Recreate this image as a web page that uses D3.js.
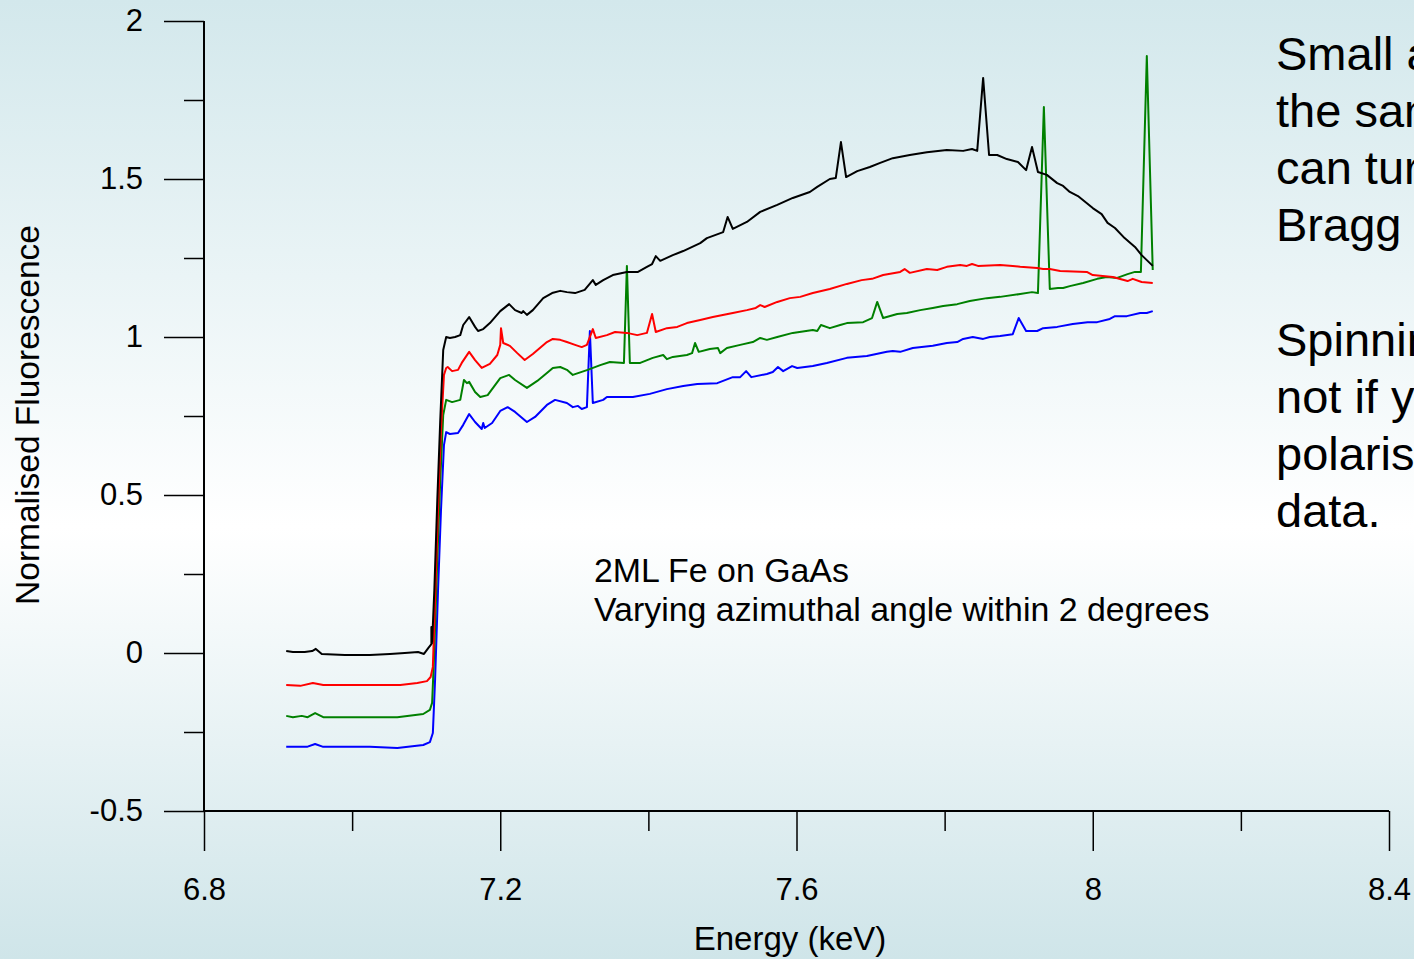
<!DOCTYPE html>
<html>
<head>
<meta charset="utf-8">
<script src="https://cdn.jsdelivr.net/npm/d3@7"></script>
<style>
  html, body { margin: 0; padding: 0; }
  body { width: 1414px; height: 959px; overflow: hidden; }
  svg text { font-family: "Liberation Sans", Arial, sans-serif; fill: #000; }
</style>
</head>
<body>
<svg id="chart" width="1414" height="959"></svg>
<script>
// ---- Data (Energy keV, normalised fluorescence) ----
const blackE = [6.911,6.920,6.936,6.946,6.951,6.959,6.990,7.024,7.051,7.071,7.089,7.097,7.103,7.107,7.107,7.108,7.111,7.115,7.119,7.123,7.127,7.132,7.139,7.146,7.150,7.158,7.166,7.170,7.177,7.186,7.200,7.212,7.220,7.229,7.231,7.236,7.244,7.258,7.270,7.281,7.290,7.301,7.314,7.325,7.329,7.339,7.352,7.371,7.386,7.398,7.405,7.410,7.416,7.433,7.447,7.470,7.479,7.501,7.507,7.514,7.533,7.551,7.574,7.595,7.618,7.628,7.645,7.653,7.660,7.667,7.682,7.699,7.713,7.730,7.753,7.776,7.803,7.825,7.837,7.844,7.852,7.860,7.871,7.884,7.899,7.910,7.918,7.926,7.938,7.952,7.960,7.969,7.980,8.000,8.012,8.020,8.030,8.043,8.057,8.066,8.081];
const blackY = [0.006,0.003,0.003,0.006,0.013,-0.003,-0.006,-0.006,-0.003,0.000,0.003,-0.003,0.016,0.028,0.082,0.032,0.199,0.484,0.737,0.959,1.000,0.997,1.000,1.006,1.038,1.063,1.032,1.019,1.025,1.044,1.082,1.104,1.085,1.076,1.082,1.070,1.085,1.123,1.139,1.146,1.142,1.139,1.149,1.180,1.165,1.180,1.196,1.206,1.206,1.222,1.231,1.256,1.241,1.259,1.272,1.297,1.313,1.332,1.380,1.342,1.364,1.396,1.418,1.440,1.459,1.475,1.500,1.503,1.617,1.506,1.525,1.538,1.551,1.566,1.576,1.585,1.592,1.589,1.595,1.589,1.820,1.576,1.576,1.563,1.554,1.528,1.601,1.522,1.513,1.487,1.478,1.459,1.446,1.408,1.389,1.361,1.345,1.313,1.285,1.259,1.225];

const redE = [6.911,6.930,6.947,6.954,6.961,7.024,7.065,7.088,7.101,7.106,7.109,7.112,7.116,7.120,7.124,7.127,7.129,7.135,7.143,7.148,7.158,7.166,7.175,7.186,7.196,7.200,7.201,7.204,7.213,7.223,7.233,7.244,7.263,7.271,7.281,7.290,7.301,7.310,7.317,7.325,7.329,7.344,7.355,7.371,7.385,7.398,7.405,7.410,7.425,7.439,7.452,7.470,7.487,7.514,7.533,7.545,7.551,7.557,7.574,7.591,7.605,7.622,7.645,7.668,7.688,7.702,7.717,7.740,7.746,7.753,7.776,7.790,7.803,7.821,7.830,7.837,7.845,7.875,7.892,7.902,7.925,7.933,7.942,7.956,7.992,8.000,8.027,8.047,8.054,8.066,8.081];
const redY = [-0.101,-0.104,-0.095,-0.098,-0.101,-0.101,-0.101,-0.095,-0.089,-0.076,-0.044,0.168,0.453,0.706,0.880,0.902,0.905,0.892,0.896,0.918,0.953,0.927,0.902,0.915,0.943,0.975,1.028,0.981,0.972,0.949,0.927,0.946,0.984,0.994,0.991,0.984,0.975,0.968,0.975,1.025,0.997,1.006,1.016,1.013,1.006,1.013,1.073,1.016,1.028,1.032,1.044,1.054,1.063,1.076,1.085,1.092,1.101,1.095,1.111,1.123,1.127,1.139,1.152,1.168,1.180,1.184,1.196,1.206,1.215,1.203,1.215,1.212,1.222,1.228,1.225,1.231,1.225,1.228,1.225,1.222,1.218,1.215,1.215,1.209,1.206,1.196,1.190,1.177,1.184,1.174,1.171];

const greenE = [6.911,6.920,6.932,6.940,6.950,6.961,7.024,7.061,7.096,7.105,7.108,7.111,7.115,7.119,7.123,7.127,7.135,7.146,7.151,7.155,7.158,7.166,7.173,7.183,7.200,7.212,7.220,7.236,7.250,7.263,7.271,7.281,7.290,7.298,7.318,7.335,7.348,7.367,7.371,7.375,7.389,7.406,7.420,7.425,7.433,7.452,7.459,7.463,7.468,7.483,7.494,7.497,7.506,7.524,7.541,7.551,7.560,7.574,7.595,7.622,7.628,7.633,7.645,7.659,7.668,7.690,7.702,7.709,7.717,7.736,7.749,7.767,7.784,7.798,7.817,7.834,7.857,7.875,7.902,7.918,7.926,7.934,7.942,7.953,7.960,7.969,7.987,8.006,8.019,8.033,8.047,8.057,8.065,8.073,8.081];
const greenY = [-0.199,-0.203,-0.199,-0.203,-0.190,-0.203,-0.203,-0.203,-0.193,-0.180,-0.158,0.009,0.294,0.547,0.753,0.801,0.794,0.801,0.864,0.854,0.858,0.826,0.810,0.816,0.870,0.880,0.864,0.839,0.861,0.886,0.902,0.905,0.896,0.880,0.896,0.911,0.921,0.918,1.225,0.918,0.918,0.934,0.943,0.930,0.937,0.943,0.949,0.981,0.953,0.962,0.965,0.949,0.965,0.975,0.984,0.997,0.991,1.000,1.013,1.022,1.019,1.038,1.028,1.038,1.044,1.047,1.060,1.111,1.060,1.073,1.076,1.085,1.092,1.098,1.104,1.114,1.123,1.127,1.136,1.142,1.139,1.728,1.152,1.155,1.155,1.161,1.171,1.184,1.190,1.187,1.199,1.206,1.206,1.889,1.212];

const blueE = [6.911,6.939,6.950,6.961,7.024,7.061,7.096,7.105,7.109,7.112,7.116,7.120,7.124,7.127,7.132,7.143,7.150,7.158,7.166,7.175,7.177,7.179,7.189,7.200,7.210,7.220,7.236,7.247,7.263,7.274,7.290,7.298,7.305,7.310,7.317,7.321,7.325,7.339,7.344,7.358,7.379,7.402,7.425,7.447,7.466,7.493,7.514,7.524,7.532,7.539,7.560,7.568,7.575,7.582,7.594,7.601,7.622,7.641,7.668,7.695,7.722,7.730,7.740,7.757,7.784,7.803,7.817,7.825,7.838,7.852,7.861,7.875,7.892,7.900,7.910,7.925,7.933,7.952,7.973,7.993,8.006,8.023,8.030,8.046,8.064,8.073,8.081];
const blueY = [-0.297,-0.297,-0.288,-0.297,-0.297,-0.301,-0.291,-0.282,-0.253,-0.085,0.199,0.453,0.658,0.699,0.693,0.696,0.722,0.756,0.731,0.709,0.728,0.712,0.728,0.766,0.778,0.763,0.731,0.747,0.785,0.801,0.791,0.778,0.782,0.772,0.778,1.019,0.791,0.801,0.810,0.810,0.810,0.820,0.835,0.845,0.851,0.854,0.873,0.873,0.892,0.873,0.883,0.889,0.905,0.892,0.908,0.902,0.908,0.918,0.934,0.940,0.953,0.956,0.953,0.965,0.972,0.981,0.984,0.994,1.000,0.994,1.000,1.003,1.009,1.060,1.019,1.019,1.028,1.032,1.041,1.047,1.047,1.057,1.066,1.066,1.076,1.076,1.082];

const seriesNames = ["black", "red", "green", "blue"];
const seriesColors = ["#000000", "#ff0000", "#008000", "#0000ff"];

const xMajorTicks = [6.8, 7.2, 7.6, 8.0, 8.4];
const xMinorTicks = [7.0, 7.4, 7.8, 8.2];
const xTickLabels = ["6.8", "7.2", "7.6", "8", "8.4"];
const yMajorTicks = [-0.5, 0, 0.5, 1, 1.5, 2];
const yMinorTicks = [-0.25, 0.25, 0.75, 1.25, 1.75];
const yTickLabels = ["-0.5", "0", "0.5", "1", "1.5", "2"];

const xTitle = "Energy (keV)";
const yTitle = "Normalised Fluorescence";
const annotationLines = ["2ML Fe on GaAs", "Varying azimuthal angle within 2 degrees"];
const sideTextLines = ["Small angular changes of", "the sample orientation", "can turn on/off strong", "Bragg peaks.", "", "Spinning helps, but", "not if you want", "polarisation dependent", "data."];

// ---- Drawing ----
const svg = d3.select("#chart");

const defs = svg.append("defs");
const grad = defs.append("linearGradient").attr("id", "bg").attr("x1", 0).attr("y1", 0).attr("x2", 0).attr("y2", 1);
grad.append("stop").attr("offset", "0%").attr("stop-color", "#d3e8ec");
grad.append("stop").attr("offset", "55%").attr("stop-color", "#ffffff");
grad.append("stop").attr("offset", "100%").attr("stop-color", "#cfe5e9");
svg.append("rect").attr("width", 1414).attr("height", 959).attr("fill", "url(#bg)");

const x = d3.scaleLinear().domain([6.8, 8.4]).range([204, 1389]);
const y = d3.scaleLinear().domain([-0.5, 2]).range([811, 21]);

const fmtX = d => xTickLabels[xMajorTicks.indexOf(d)];
const fmtY = d => yTickLabels[yMajorTicks.indexOf(d)];

// Y axis
const yAxisG = svg.append("g").attr("transform", "translate(204,0)");
yAxisG.call(d3.axisLeft(y).tickValues(yMajorTicks).tickFormat(fmtY).tickSize(40).tickPadding(21));
const yMinorG = svg.append("g").attr("transform", "translate(204,0)");
yMinorG.call(d3.axisLeft(y).tickValues(yMinorTicks).tickFormat("").tickSize(20));
// X axis
const xAxisG = svg.append("g").attr("transform", "translate(0,811)");
xAxisG.call(d3.axisBottom(x).tickValues(xMajorTicks).tickFormat(fmtX).tickSize(40).tickPadding(27));
const xMinorG = svg.append("g").attr("transform", "translate(0,811)");
xMinorG.call(d3.axisBottom(x).tickValues(xMinorTicks).tickFormat("").tickSize(20));

svg.selectAll(".domain").attr("stroke", "#000").attr("stroke-width", 2).attr("d", null);
yAxisG.select(".domain").attr("d", `M0,${y(2)}V${y(-0.5)}`);
xAxisG.select(".domain").attr("d", `M${x(6.8)},0H${x(8.4)}`);
yMinorG.select(".domain").remove();
xMinorG.select(".domain").remove();
svg.selectAll(".tick line").attr("stroke", "#000").attr("stroke-width", 1.5);
svg.selectAll(".tick text").style("font-family", "'Liberation Sans', Arial, sans-serif").style("font-size", "31px").attr("fill", "#000");

// Series
const allSeries = [
  { name: seriesNames[0], color: seriesColors[0], E: blackE, V: blackY },
  { name: seriesNames[1], color: seriesColors[1], E: redE, V: redY },
  { name: seriesNames[2], color: seriesColors[2], E: greenE, V: greenY },
  { name: seriesNames[3], color: seriesColors[3], E: blueE, V: blueY }
];
const line = d3.line().x(d => x(d[0])).y(d => y(d[1]));
[3, 2, 1, 0].forEach(i => {
  const s = allSeries[i];
  const pts = s.E.map((e, k) => [e, s.V[k]]);
  svg.append("path").attr("d", line(pts)).attr("fill", "none")
    .attr("stroke", s.color).attr("stroke-width", 2).attr("stroke-linejoin", "round");
});

// Titles
svg.append("text").attr("x", 790).attr("y", 950).attr("text-anchor", "middle")
  .style("font-size", "33px").text(xTitle);
svg.append("text").attr("transform", "translate(39,415) rotate(-90)").attr("text-anchor", "middle")
  .style("font-size", "33.5px").text(yTitle);

// Annotation
annotationLines.forEach((t, i) => {
  svg.append("text").attr("x", 594).attr("y", 582 + i * 39).style("font-size", "33.9px").text(t);
});

// Side text
sideTextLines.forEach((t, i) => {
  if (!t) return;
  svg.append("text").attr("x", 1276).attr("y", 70 + i * 57.1).style("font-size", "47px").text(t);
});
</script>
</body>
</html>
